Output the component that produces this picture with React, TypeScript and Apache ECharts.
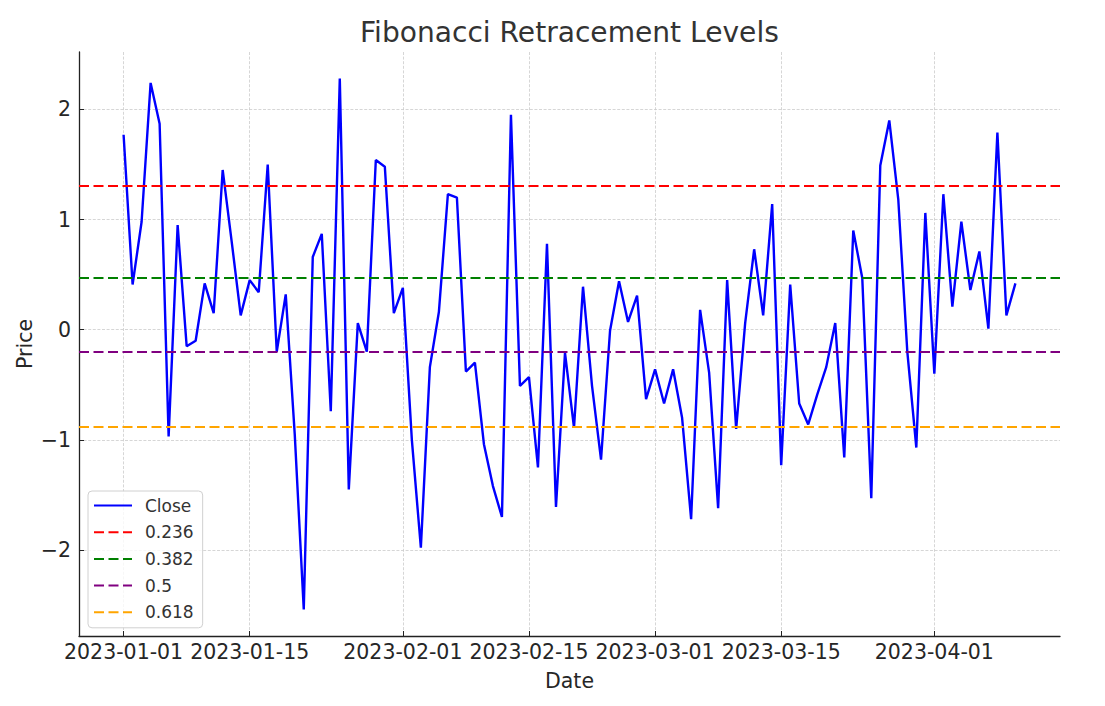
import { useEffect, useRef } from 'react';
import * as echarts from 'echarts';

// daily closes starting 2023-01-01
const startDate = [2023, 0, 1];
const closeValues = [
  1.77, 0.41, 0.98, 2.24, 1.87, -0.97, 0.95, -0.15, -0.1, 0.42,
  0.15, 1.45, 0.8, 0.13, 0.45, 0.34, 1.5, -0.2, 0.32, -0.95,
  -2.54, 0.66, 0.87, -0.74, 2.28, -1.45, 0.06, -0.2, 1.54, 1.48,
  0.15, 0.38, -1.0, -1.98, -0.34, 0.16, 1.23, 1.2, -0.38, -0.3,
  -1.04, -1.42, -1.7, 1.95, -0.51, -0.43, -1.25, 0.78, -1.61, -0.21,
  -0.89, 0.39, -0.51, -1.18, -0.01, 0.44, 0.07, 0.31, -0.63, -0.36,
  -0.67, -0.36, -0.8, -1.72, 0.18, -0.39, -1.62, 0.45, -0.9, 0.06,
  0.73, 0.13, 1.14, -1.23, 0.41, -0.67, -0.86, -0.59, -0.34, 0.06,
  -1.16, 0.9, 0.47, -1.53, 1.49, 1.9, 1.18, -0.2, -1.07, 1.06,
  -0.4, 1.23, 0.21, 0.98, 0.36, 0.71, 0.01, 1.79, 0.13, 0.42,
];

const levelNames = ['0.236', '0.382', '0.5', '0.618'];
const levelValues = [1.306, 0.471, -0.204, -0.879];
const levelColors = ['#ff0000', '#008000', '#800080', '#ffa500'];

const xTickLabels = ['2023-01-01', '2023-01-15', '2023-02-01', '2023-02-15', '2023-03-01', '2023-03-15', '2023-04-01'];
const yTickValues = [-2, -1, 0, 1, 2];

const DAY = 86400000;
const FONT = 'DejaVu Sans';

const toTime = (s: string) => {
  const [y, m, d] = s.split('-').map(Number);
  return new Date(y, m - 1, d).getTime();
};
const fmtDate = (v: number) => {
  const d = new Date(v);
  const p = (n: number) => String(n).padStart(2, '0');
  return `${d.getFullYear()}-${p(d.getMonth() + 1)}-${p(d.getDate())}`;
};

export default function App() {
  const chartRef = useRef<HTMLDivElement>(null);

  useEffect(() => {
    if (!chartRef.current) return;
    document.body.style.margin = '0';
    const chart = echarts.init(chartRef.current, null, { renderer: 'svg' });

    const t0 = new Date(startDate[0], startDate[1], startDate[2]).getTime();
    const closeData = closeValues.map((v, i) => [
      new Date(startDate[0], startDate[1], startDate[2] + i).getTime(),
      v,
    ]);
    const n = closeValues.length - 1;
    const xMin = t0 - 0.05 * n * DAY;
    const xMax = t0 + 1.05 * n * DAY;
    const lo = Math.min(...closeValues);
    const hi = Math.max(...closeValues);
    const yMin = lo - 0.05 * (hi - lo);
    const yMax = hi + 0.05 * (hi - lo);

    const gridLine = { show: true, lineStyle: { color: '#cccccc', width: 0.8, type: [3, 1.6] as any } };

    const option: echarts.EChartsOption = {
      animation: false,
      backgroundColor: '#ffffff',
      title: {
        text: 'Fibonacci Retracement Levels',
        left: 360,
        top: 18,
        padding: 0,
        textStyle: { fontFamily: FONT, fontSize: 28.1, fontWeight: 'normal', color: '#333333' },
      },
      grid: { left: 79, right: 45, top: 52, bottom: 70, containLabel: false },
      legend: {
        orient: 'vertical',
        left: 88,
        top: 491,
        padding: [6, 9, 7, 5],
        itemWidth: 38,
        itemHeight: 14,
        itemGap: 9.7,
        backgroundColor: 'rgba(255,255,255,0.8)',
        borderColor: '#d0d0d0',
        borderWidth: 1,
        borderRadius: 4,
        itemStyle: { opacity: 0 },
        textStyle: { fontFamily: FONT, fontSize: 17, color: '#333333', padding: [0, 0, 0, 8] },
        data: ['Close', ...levelNames],
      },
      xAxis: {
        type: 'value',
        min: xMin,
        max: xMax,
        name: 'Date',
        nameLocation: 'middle',
        nameGap: 34,
        nameTextStyle: { fontFamily: FONT, fontSize: 20.5, color: '#262626' },
        axisLine: { onZero: false, lineStyle: { color: '#222222', width: 1.3 } },
        axisTick: { inside: true, length: 5, lineStyle: { color: '#222222', width: 1 }, customValues: xTickLabels.map(toTime) } as any,
        axisLabel: {
          fontFamily: FONT,
          fontSize: 20.5,
          color: '#262626',
          margin: 5,
          customValues: xTickLabels.map(toTime),
          formatter: (v: number) => fmtDate(v),
        } as any,
        splitLine: gridLine,
      },
      yAxis: {
        type: 'value',
        min: yMin,
        max: yMax,
        name: 'Price',
        nameLocation: 'middle',
        nameGap: 44,
        nameMoveOverlap: false,
        nameTextStyle: { fontFamily: FONT, fontSize: 20.5, color: '#262626' },
        axisLine: { show: true, onZero: false, lineStyle: { color: '#222222', width: 1.3 } },
        axisTick: { show: true, inside: true, length: 5, lineStyle: { color: '#222222', width: 1 }, customValues: yTickValues } as any,
        axisLabel: {
          fontFamily: FONT,
          fontSize: 20.5,
          color: '#262626',
          margin: 8,
          customValues: yTickValues,
          formatter: (v: number) => String(Math.round(v)).replace('-', '\u2212'),
        } as any,
        splitLine: gridLine,
      } as any,
      series: [
        {
          name: 'Close',
          type: 'line',
          data: closeData,
          symbol: 'none',
          color: '#0000ff',
          lineStyle: { color: '#0000ff', width: 2.4 },
          z: 3,
        },
        ...levelNames.map((name, i) => ({
          name,
          type: 'line' as const,
          data: [] as number[][],
          symbol: 'none',
          color: levelColors[i],
          lineStyle: { color: levelColors[i], width: 2, type: [10, 4.5] as any },
          z: 2,
          markLine: {
            silent: true,
            symbol: ['none', 'none'],
            label: { show: false },
            lineStyle: { color: levelColors[i], width: 2, type: [10, 4.5] as any },
            data: [{ yAxis: levelValues[i] }],
          },
        })),
      ],
    };

    chart.setOption(option);
    return () => {
      chart.dispose();
    };
  }, []);

  return (
    <div
      ref={chartRef}
      style={{ position: 'fixed', left: 0, top: 0, width: 1105, height: 706 }}
    />
  );
}
